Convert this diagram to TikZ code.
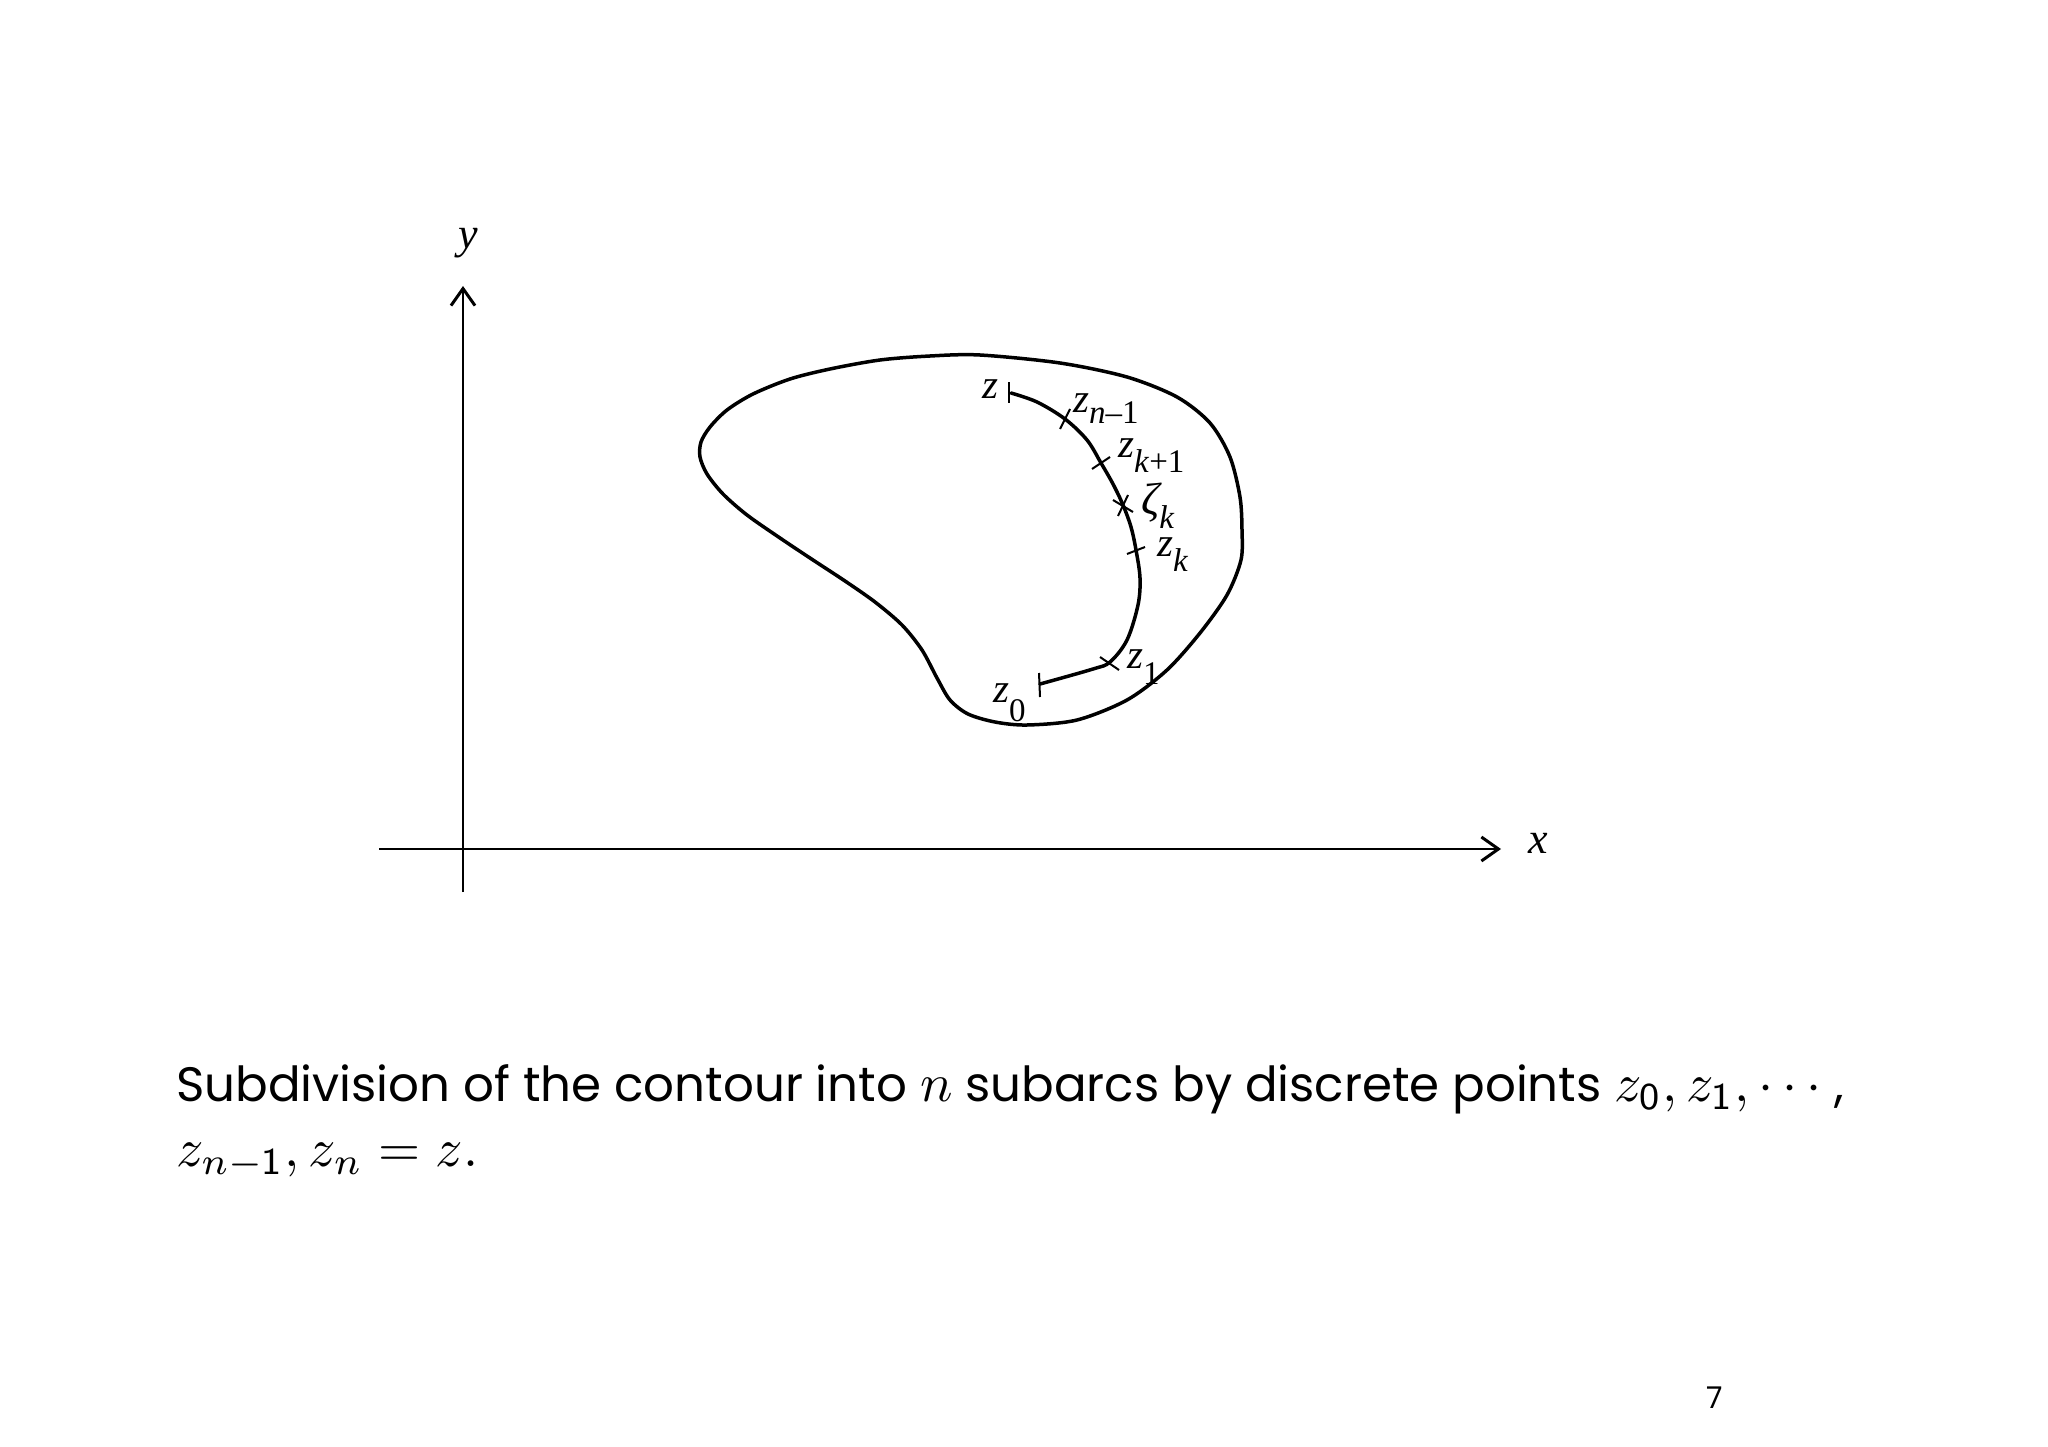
\documentclass[tikz,border=0pt]{standalone}
\usepackage{graphicx}
\usepackage{fontspec}
\newfontfamily\lblfont{Liberation Serif}
\newfontfamily\capfont{Poppins}
\usetikzlibrary{arrows.meta}
\newcommand\sbs[2][15pt]{\raisebox{-#1}{\fontsize{33}{33}\selectfont #2}}
\newcommand\capscale[1]{\scalebox{4.83}{\capfont\fontsize{10}{12}\selectfont #1}}
\newcommand\cm[1]{\scalebox{1.12}{$#1$}}
\begin{document}
\begin{tikzpicture}[x=1pt,y=-1pt,
  contour/.style={line width=3.5pt, line join=round, line cap=round},
  axisline/.style={line width=2.8pt, -{Straight Barb[length=17pt,width=24pt,line width=3pt]}},
  tickline/.style={line width=2pt},
  lbl/.style={inner sep=0pt, anchor=base west, font=\lblfont\fontsize{41}{41}\selectfont\itshape},
  axlbl/.style={inner sep=0pt, anchor=base, font=\lblfont\fontsize{44}{44}\selectfont\itshape},
  captext/.style={inner sep=0pt, anchor=base west},
  pagenum/.style={inner sep=0pt, anchor=base west, font=\capfont\fontsize{30}{30}\selectfont},
]
\useasboundingbox (0,0) rectangle (2048,1447);

% axes
\coordinate (xs) at (379,849);
\coordinate (xe) at (1501,849);
\coordinate (ys) at (463,892);
\coordinate (ye) at (463,286);
\draw[axisline] (xs) -- (xe);
\draw[axisline] (ys) -- (ye);
\node[axlbl] (xlab) at (1538,853) {x};
\node[axlbl] (ylab) at (468,249) {y};

% outer contour
\draw[contour] plot[smooth cycle, tension=0.5] coordinates {
  (980,355) (1060,363) (1127,377) (1177,397) (1210,423) (1230,457)
  (1240,497) (1242,530) (1241,560) (1227,595) (1200,633) (1167,670)
  (1127,700) (1077,720) (1027,725) (995,722) (968,714) (950,700)
  (937,678) (922,650) (902,625) (875,602) (845,581) (813,560)
  (780,538) (747,515) (723,494) (707,474) (700,457) (701,442)
  (710,427) (727,410) (753,394) (790,379) (830,369) (880,360) (930,356)};

% inner arc
\draw[contour] plot[smooth, tension=0.55] coordinates {
  (1011,393) (1037,402) (1065,419) (1087,440) (1101,463) (1113,484)
  (1123,505) (1131,527) (1136,550) (1140,578) (1138,605) (1127,640)
  (1110,662) (1093,669) (1040,684)};

% ticks
\draw[tickline] (1009,382) -- (1009,403);
\draw[tickline] (1060,429) -- (1070,409);
\draw[tickline] (1092,469) -- (1110,457);
\draw[tickline] (1113,500) -- (1133,512);
\draw[tickline] (1118,516) -- (1128,495);
\draw[tickline] (1127,554) -- (1145,547);
\draw[tickline] (1100,657) -- (1119,670);
\draw[tickline] (1039,673) -- (1040,697);

% labels
\node[lbl] (lz)   at (982,398)  {z};
\node[lbl] (lzn1) at (1073,412) {z\sbs[11pt]{n\textup{–1}}};
\node[lbl] (lzk1) at (1118,457) {z\sbs[15pt]{k\textup{+1}}};
\node[lbl] (lzeta) at (1141,514) {\fontsize{45}{45}\selectfont ζ\sbs[14pt]{k}};
\node[lbl] (lzk)  at (1157,556) {z\sbs[15pt]{k}};
\node[lbl] (lz1)  at (1127,668) {z\sbs[16pt]{\textup{1}}};
\node[lbl] (lz0)  at (993,702)  {z\sbs[19pt]{\textup{0}}};

% caption
\node[captext] (cap1) at (176,1101) {\capscale{Subdivision of the contour into \cm{n} subarcs by discrete points \cm{z_{\mathsf{0}}, z_{\mathsf{1}}, \cdots} ,}};
\node[captext] (cap2) at (176,1166) {\capscale{\cm{z_{n-\mathsf{1}}, z_n \mathrel{\mathsf{=}} z.}}};

\node[pagenum] (pnum) at (1706,1408) {7};
\end{tikzpicture}
\end{document}
